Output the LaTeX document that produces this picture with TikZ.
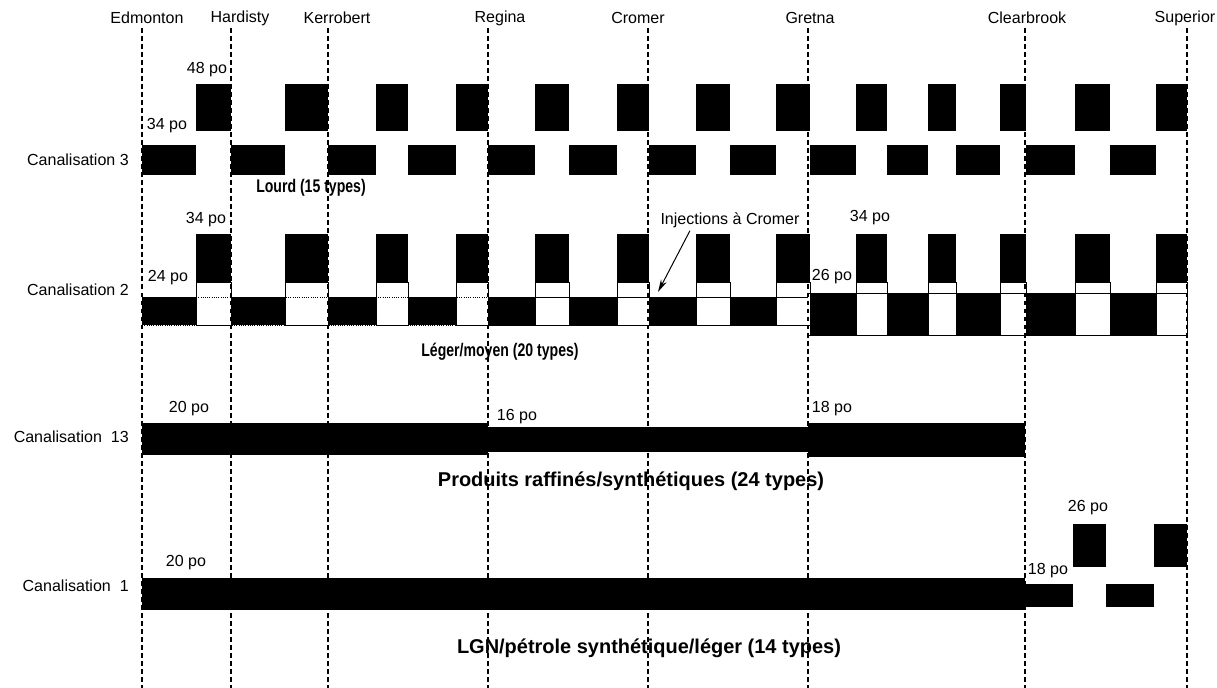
\documentclass[tikz,border=0pt]{standalone}
\usepackage{fontspec}
\setmainfont{Liberation Sans}
\usetikzlibrary{arrows.meta}

\begin{document}
\begin{tikzpicture}[x=0.025cm,y=-0.025cm,font=\fontsize{11.4}{13}\selectfont,inner sep=0pt,
  stationline/.style={line width=1.1pt,dash pattern=on 3.5pt off 2.2pt},
  bigtitle/.style={font=\fontsize{14.2}{16}\selectfont\bfseries},
  smalltitle/.style={font=\fontsize{13}{15}\selectfont\bfseries},
  rowline/.style={line width=0.6pt}]
  \useasboundingbox (0,0) rectangle (1217,688);
  \foreach \x/\lx/\nm in {142/147/Edmonton,231/240/Hardisty,328/337/Kerrobert,488/500/Regina,
      648/638/Cromer,808/810/Gretna,1025/1027/Clearbrook,1187/1185/Superior}{
     \node (\nm) at (\lx,18) {\nm};
     \draw[stationline] (\x,28) -- (\x,688);}
  % canalisation 3
  \node[anchor=east] (canal3) at (129,160) {Canalisation 3};
  \foreach \a/\b in {142/196,231/285,328/376,408/456,488/535,569/617,649/696,
      730/776,810/856,887/928,956/1000,1026/1075,1110/1156}{
     \fill (\a,145) rectangle (\b,175);}
  \foreach \a/\b in {196/231,285/328,376/408,456/488,535/569,617/649,696/730,
      776/810,856/887,928/956,1000/1026,1075/1110,1156/1187}{
     \fill (\a,84) rectangle (\b,131);}
  \node (d48) at (207,70) {48 po};
  \node (d34a) at (167,126) {34 po};
  \node[smalltitle] (lourd) at (311,188) {\scalebox{0.77}[1]{Lourd (15 types)}};
  % canalisation 2
  \node[anchor=east] (canal2) at (129,290) {Canalisation 2};
  \draw[rowline,densely dotted] (142,297) -- (488,297) (142,325) -- (488,325);
  \draw[rowline] (488,297) -- (808,297) (488,325) -- (808,325)
     (808,293) -- (1187,293) (808,335) -- (1187,335);
  \foreach \a/\b in {142/196,231/285,328/376,408/456,488/535,569/617,649/696,730/776}{
     \fill (\a,297) rectangle (\b,325);}
  \foreach \a/\b in {810/856,887/928,956/1000,1026/1075,1110/1156}{
     \fill (\a,293) rectangle (\b,335);}
  \foreach \a/\b/\r in {196/231/325,285/328/325,376/408/325,456/488/325,535/569/325,
      617/649/325,696/730/325,776/810/325,856/887/335,928/956/335,1000/1026/335,
      1075/1110/335,1156/1187/335}{
     \draw[rowline] (\a,282) rectangle (\b,\r);
     \fill (\a,234) rectangle (\b,282);}
  \node (d34b) at (206,220) {34 po};
  \node (d24) at (168,278) {24 po};
  \node (d34c) at (870,218) {34 po};
  \node (d26a) at (832,277) {26 po};
  \node (inj) at (730,220) {Injections à Cromer};
  \coordinate (injtip) at (658,292);
  \draw[line width=0.7pt,-{Stealth[length=9pt,width=4.5pt]}] ([xshift=-1cm,yshift=-2pt]inj.south) -- (injtip);
  \node[smalltitle] (leger) at (500,352) {\scalebox{0.77}[1]{Léger/moyen (20 types)}};
  % canalisation 13
  \node[anchor=east] (canal13) at (129,437) {Canalisation\ \ 13};
  \fill (142,423) rectangle (488,455);
  \fill (488,427) rectangle (808,452);
  \fill (808,423) rectangle (1025,457);
  \node (d20a) at (189,409) {20 po};
  \node (d16) at (517,417) {16 po};
  \node (d18a) at (832,409) {18 po};
  \node[bigtitle] (produits) at (631,481) {Produits raffinés/synthétiques (24 types)};
  % canalisation 1
  \node[anchor=east] (canal1) at (129,586) {Canalisation\ \ 1};
  \fill (142,578) rectangle (1025,610);
  \foreach \a/\b in {1025/1073,1106/1154}{
     \fill (\a,584) rectangle (\b,607);}
  \foreach \a/\b in {1073/1106,1154/1187}{
     \fill (\a,524) rectangle (\b,567);}
  \node (d20b) at (186,563) {20 po};
  \node (d18b) at (1048,571) {18 po};
  \node (d26b) at (1088,508) {26 po};
  \node[bigtitle] (lgn) at (649,648) {LGN/pétrole synthétique/léger (14 types)};
\end{tikzpicture}
\end{document}
